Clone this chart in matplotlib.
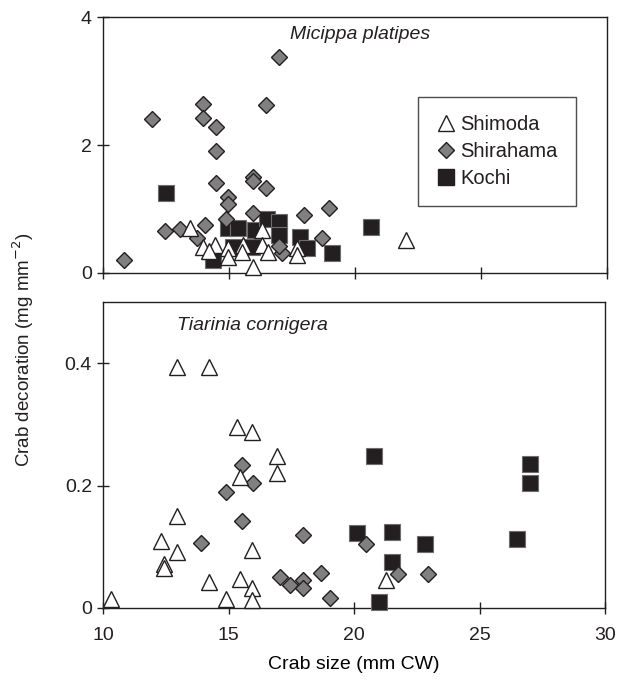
import matplotlib
matplotlib.use("Agg")
import matplotlib.pyplot as plt

# ---------------- data: Micippa platipes (top) ----------------
mp_shimoda_x = [13.45, 14.44, 13.98, 14.97, 14.97, 15.57, 15.5, 15.96, 16.3, 16.3, 16.56, 17.68, 17.68, 22.02, 14.2]
mp_shimoda_y = [0.70, 0.44, 0.41, 0.39, 0.25, 0.44, 0.33, 0.10, 0.67, 0.44, 0.33, 0.39, 0.28, 0.52, 0.35]

mp_shirahama_x = [10.85, 11.96, 13.95, 13.95, 14.47, 14.47, 16.98, 16.48, 14.47, 15.96, 15.96, 16.48,
                  14.97, 14.97, 12.47, 13.06, 14.06, 13.72, 15.96, 17.98, 18.98, 18.68, 17.09, 17.0, 14.9]
mp_shirahama_y = [0.21, 2.41, 2.64, 2.42, 2.28, 1.91, 3.375, 2.63, 1.41, 1.50, 1.43, 1.33,
                  1.19, 1.08, 0.65, 0.69, 0.75, 0.54, 0.93, 0.91, 1.01, 0.54, 0.31, 0.42, 0.85]

mp_kochi_x = [12.49, 20.62, 19.07, 17.82, 18.08, 14.97, 15.37, 15.17, 14.38, 16.03, 16.5, 17.0, 17.0, 15.9]
mp_kochi_y = [1.25, 0.72, 0.31, 0.57, 0.39, 0.70, 0.70, 0.41, 0.20, 0.67, 0.85, 0.80, 0.59, 0.41]

# ---------------- data: Tiarinia cornigera (bottom) ----------------
tc_shimoda_x = [12.94, 14.24, 15.34, 15.94, 16.93, 16.93, 15.44, 12.94, 12.32, 12.94, 12.45, 12.45,
                15.94, 14.24, 15.44, 15.94, 15.94, 14.91, 10.32, 21.26]
tc_shimoda_y = [0.393, 0.393, 0.296, 0.288, 0.248, 0.221, 0.214, 0.150, 0.110, 0.091, 0.072, 0.065,
                0.094, 0.043, 0.048, 0.032, 0.013, 0.014, 0.014, 0.045]

tc_shirahama_x = [15.54, 15.96, 14.91, 15.54, 13.91, 17.07, 17.47, 17.96, 17.96, 17.96, 18.69, 19.03,
                  20.46, 21.75, 22.96]
tc_shirahama_y = [0.234, 0.205, 0.190, 0.142, 0.106, 0.051, 0.038, 0.120, 0.045, 0.032, 0.057, 0.017,
                  0.104, 0.055, 0.055]

tc_kochi_x = [20.79, 20.1, 21.5, 22.81, 21.5, 21.0, 26.5, 27.0, 27.0]
tc_kochi_y = [0.249, 0.122, 0.124, 0.104, 0.075, 0.009, 0.113, 0.235, 0.204]

x_ticks = [10, 15, 20, 25, 30]
top_yticks = [0, 2, 4]
bot_yticks = [0, 0.2, 0.4]
bot_yticklabels = ["0", "0.2", "0.4"]

# ---------------- styling ----------------
plt.rcParams['font.family'] = ['Liberation Sans', 'DejaVu Sans']
INK = '#231f20'
plt.rcParams['text.color'] = INK
plt.rcParams['axes.edgecolor'] = INK
plt.rcParams['xtick.color'] = INK
plt.rcParams['ytick.color'] = INK
plt.rcParams['axes.linewidth'] = 1.0

fig = plt.figure(figsize=(6.19, 6.88), dpi=100)
ax1 = fig.add_axes([103/619, 1-273/688, 504/619, 256/688])
ax2 = fig.add_axes([103/619, 1-608/688, 502/619, 306/688])

sq_kw = dict(marker='s', linestyle='none', markersize=11.5, markerfacecolor=INK,
             markeredgecolor='#6d6d6d', markeredgewidth=0.8)
di_kw = dict(marker='D', linestyle='none', markersize=8.3, markerfacecolor='#808080',
             markeredgecolor=INK, markeredgewidth=1.0)
tr_kw = dict(marker='^', linestyle='none', markersize=11, markerfacecolor='white',
             markeredgecolor=INK, markeredgewidth=1.0)

for ax, kx, ky, dx, dy, tx, ty in [
    (ax1, mp_kochi_x, mp_kochi_y, mp_shirahama_x, mp_shirahama_y, mp_shimoda_x, mp_shimoda_y),
    (ax2, tc_kochi_x, tc_kochi_y, tc_shirahama_x, tc_shirahama_y, tc_shimoda_x, tc_shimoda_y),
]:
    ax.plot(kx, ky, zorder=3, clip_on=False, **sq_kw)
    ax.plot(dx, dy, zorder=4, clip_on=False, **di_kw)
    ax.plot(tx, ty, zorder=5, clip_on=False, **tr_kw)
    ax.set_xlim(10, 30)
    ax.set_xticks(x_ticks)
    ax.tick_params(direction='inout', length=8, width=1.0, labelsize=14, pad=4)

ax1.set_ylim(0, 4)
ax1.set_yticks(top_yticks)
ax1.tick_params(axis='x', labelbottom=False)

ax2.set_ylim(0, 0.5)
ax2.set_yticks(bot_yticks)
ax2.set_yticklabels(bot_yticklabels)
ax2.tick_params(axis='x', pad=10)

ax1.text(0.51, 0.93, 'Micippa platipes', transform=ax1.transAxes, style='italic',
         fontsize=14, ha='center', va='center')
ax2.text(0.297, 0.922, 'Tiarinia cornigera', transform=ax2.transAxes, style='italic',
         fontsize=14, ha='center', va='center')

ax2.set_xlabel('Crab size (mm CW)', fontsize=14, labelpad=8)
fig.text(0.037, 0.491, 'Crab decoration (mg mm$^{-2}$)', rotation=90, fontsize=13.5,
         ha='center', va='center')

# legend
h1, = ax1.plot([], [], marker='^', linestyle='none', markersize=11, markerfacecolor='white',
               markeredgecolor=INK, markeredgewidth=1.0)
h2, = ax1.plot([], [], marker='D', linestyle='none', markersize=8.5, markerfacecolor='#808080',
               markeredgecolor=INK, markeredgewidth=1.0)
h3, = ax1.plot([], [], marker='s', linestyle='none', markersize=12, markerfacecolor=INK,
               markeredgecolor=INK)
leg = ax1.legend([h1, h2, h3], ['Shimoda', 'Shirahama', 'Kochi'],
                 loc='upper left', bbox_to_anchor=((418-103)/504, 1-(97-17)/256),
                 fontsize=14.5, frameon=True, fancybox=False, edgecolor=INK,
                 handletextpad=0.2, handlelength=1.0, borderpad=0.9, labelspacing=0.4,
                 borderaxespad=0)
leg.get_frame().set_linewidth(1.0)

fig.savefig('out.png', dpi=100)
